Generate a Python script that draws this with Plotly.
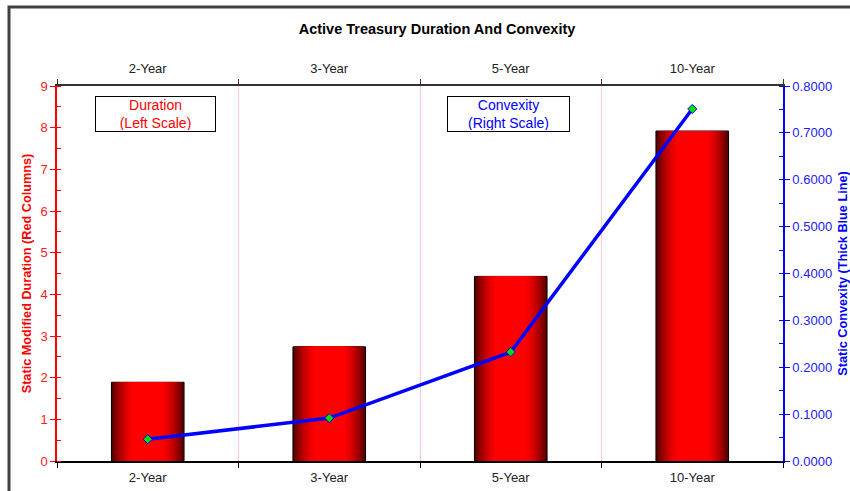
import plotly.graph_objects as go

categories = ["2-Year", "3-Year", "5-Year", "10-Year"]
duration = [1.89, 2.74, 4.43, 7.92]
convexity = [0.0465, 0.0915, 0.2325, 0.7510]
left_ticks = list(range(0, 10))
right_ticks = [0.0, 0.1, 0.2, 0.3, 0.4, 0.5, 0.6, 0.7, 0.8]

FONT = "Liberation Sans, Arial, sans-serif"

W, H = 850, 491
L, R, T, B = 57, 67, 86, 30
pw, ph = W - L - R, H - T - B


def px_x(p):
    return (p - L) / pw


def px_y(p):
    return (H - B - p) / ph


fig = go.Figure()

# Gradient columns built from overlaid bars of decreasing width
N = 30
edge = (0x55, 0x00, 0x00)
centre = (0xFF, 0x00, 0x00)
for k in range(N):
    t = k / (N - 1)
    s = min(1.0, t * 1.5)
    s = 1 - (1 - s) ** 1.7
    col = tuple(int(edge[i] + (centre[i] - edge[i]) * s) for i in range(3))
    fig.add_trace(go.Bar(
        x=categories, y=duration,
        width=0.4 * (1 - k / N),
        marker=dict(color="rgb(%d,%d,%d)" % col,
                    line=dict(color="black" if k == 0 else "rgba(0,0,0,0)",
                              width=1 if k == 0 else 0)),
        hoverinfo="skip" if k else "x+y",
        showlegend=False,
        xaxis="x", yaxis="y",
    ))

# invisible trace for the top category axis
fig.add_trace(go.Scatter(
    x=categories, y=duration, mode="markers",
    marker=dict(opacity=0), hoverinfo="skip", showlegend=False,
    xaxis="x2", yaxis="y",
))

fig.add_trace(go.Scatter(
    x=categories, y=convexity, mode="lines+markers",
    line=dict(color="#0000FF", width=3.5),
    marker=dict(symbol="diamond", size=7, color="#00E000",
                line=dict(color="#0000FF", width=1)),
    showlegend=False,
    xaxis="x", yaxis="y2",
))

fig.update_layout(
    width=W, height=H,
    margin=dict(l=L, r=R, t=T, b=B, autoexpand=False),
    paper_bgcolor="white", plot_bgcolor="white",
    font=dict(family=FONT, size=12, color="black"),
    barmode="overlay",
    title=dict(text="<b>Active Treasury Duration And Convexity</b>",
               x=437 / W, xanchor="center", y=1 - 29 / H, yanchor="middle",
               font=dict(family=FONT, size=14.5, color="black")),
    xaxis=dict(
        type="category", categoryorder="array", categoryarray=categories,
        range=[-0.5, 3.5], tickson="boundaries",
        showline=True, linecolor="black", linewidth=1.5,
        ticks="outside", ticklen=5, tickcolor="black",
        showgrid=True, gridcolor="#F6C6DE", gridwidth=1,
        tickfont=dict(family=FONT, size=13, color="#222222"),
        ticklabelstandoff=4,
        zeroline=False, fixedrange=True,
    ),
    xaxis2=dict(
        type="category", categoryorder="array", categoryarray=categories,
        range=[-0.5, 3.5], tickson="boundaries", overlaying="x", side="top",
        showline=True, linecolor="#333333", linewidth=1.5,
        ticks="outside", ticklen=5, tickcolor="#333333",
        showgrid=False,
        tickfont=dict(family=FONT, size=13, color="#222222"),
        ticklabelstandoff=6,
        fixedrange=True,
    ),
    yaxis=dict(
        range=[0, 9], tickvals=left_ticks,
        showline=True, linecolor="red", linewidth=1.5,
        ticks="outside", ticklen=5, tickcolor="red",
        minor=dict(ticks="inside", ticklen=4, tickcolor="red", dtick=0.5, showgrid=False),
        showgrid=False, zeroline=False,
        tickfont=dict(family=FONT, size=13, color="#FF2020"),
        title=dict(text="<b>Static Modified Duration (Red Columns)</b>",
                   font=dict(family=FONT, size=12.7, color="#FF0000"), standoff=6),
        fixedrange=True,
    ),
    yaxis2=dict(
        range=[0, 0.8], tickvals=right_ticks, tickformat=".4f",
        overlaying="y", side="right",
        showline=True, linecolor="#0000FF", linewidth=1.5,
        ticks="outside", ticklen=5, tickcolor="#0000FF",
        minor=dict(ticks="inside", ticklen=4, tickcolor="#0000FF", dtick=0.05, showgrid=False),
        showgrid=False, zeroline=False,
        tickfont=dict(family=FONT, size=13, color="#2020FF"),
        title=dict(text="<b>Static Convexity (Thick Blue Line)</b>",
                   font=dict(family=FONT, size=12.7, color="#0000FF"), standoff=7),
        fixedrange=True,
    ),
    shapes=[dict(type="rect", xref="paper", yref="paper",
                 x0=px_x(9), x1=px_x(W + 40), y0=px_y(7), y1=px_y(H + 40),
                 line=dict(color="#404040", width=3), fillcolor="rgba(0,0,0,0)",
                 layer="below")],
    annotations=[
        dict(text="Duration<br>(Left Scale)", xref="paper", yref="paper",
             x=px_x(155.5), y=px_y(114), xanchor="center", yanchor="middle",
             showarrow=False, width=117, height=32, align="center",
             bgcolor="white", bordercolor="black", borderwidth=1, borderpad=1,
             font=dict(family=FONT, size=14, color="#FF0000")),
        dict(text="Convexity<br>(Right Scale)", xref="paper", yref="paper",
             x=px_x(508.5), y=px_y(114), xanchor="center", yanchor="middle",
             showarrow=False, width=119, height=32, align="center",
             bgcolor="white", bordercolor="black", borderwidth=1, borderpad=1,
             font=dict(family=FONT, size=14, color="#0000FF")),
    ],
)

fig.write_html("out.html")
